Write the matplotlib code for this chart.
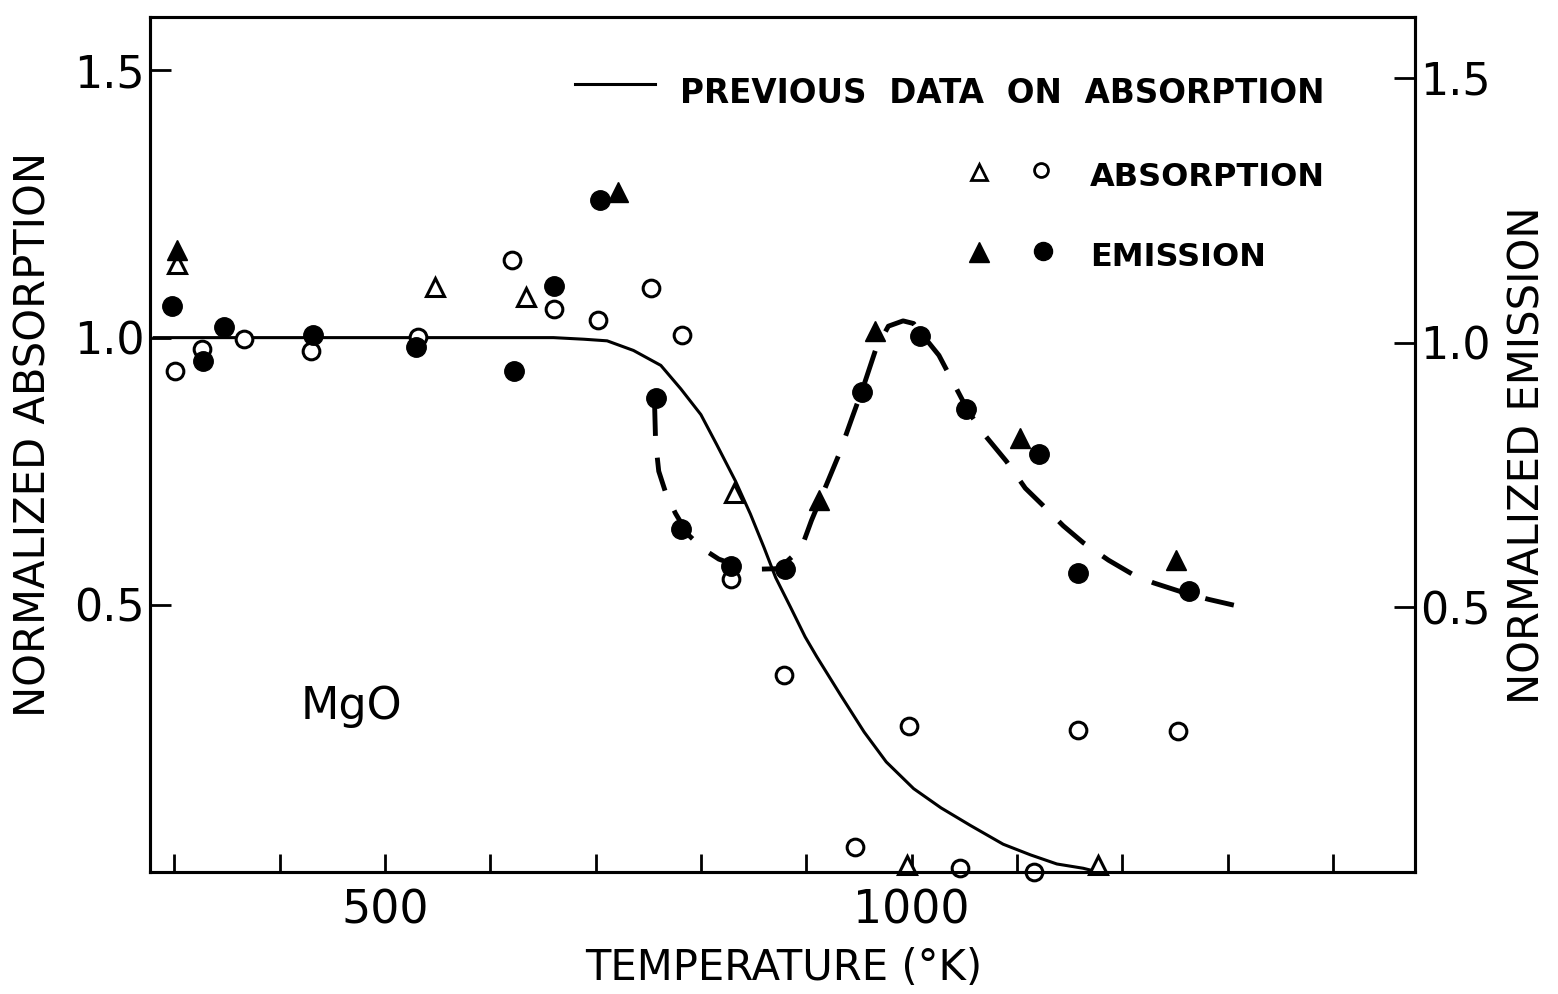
import matplotlib
matplotlib.use("Agg")
import matplotlib.pyplot as plt

plt.rcParams['font.family'] = ['DejaVu Sans']

# Absorcao (simbolos abertos), eixo esquerdo
abs_tri_T = [303, 548, 634, 831, 996, 1177]
abs_tri_val = [1.137, 1.095, 1.076, 0.709, 0.013, 0.014]

abs_circ_T = [301, 326, 366, 430, 531, 621, 661, 702, 753, 782, 829, 879, 946, 998, 1046, 1116, 1158, 1253]
abs_circ_val = [0.937, 0.979, 0.998, 0.975, 1.001, 1.145, 1.054, 1.033, 1.093, 1.004, 0.549, 0.368, 0.047,
                0.274, 0.008, 0.000, 0.266, 0.264]

# Emissao (simbolos cheios), eixo direito
em_tri_T = [303, 721, 912, 965, 1103, 1251]
em_tri_val = [1.174, 1.285, 0.702, 1.022, 0.820, 0.590]

em_circ_T = [298, 327, 347, 432, 530, 623, 661, 704, 757, 781, 829, 880, 953, 1008, 1052, 1121, 1158, 1263]
em_circ_val = [1.069, 0.965, 1.030, 1.014, 0.992, 0.946, 1.106, 1.270, 0.896, 0.647, 0.578, 0.573, 0.906,
               1.013, 0.874, 0.790, 0.565, 0.530]

# Curva de dados anteriores de absorcao (linha cheia)
prev_T = [281, 660, 689, 711, 736, 762, 781, 800, 815, 833, 847, 860, 871, 885, 899, 910, 933, 955, 976,
          1002, 1028, 1056, 1087, 1113, 1138, 1163, 1177]
prev_val = [1.0, 1.0, 0.997, 0.994, 0.976, 0.948, 0.904, 0.856, 0.800, 0.731, 0.670, 0.607, 0.551, 0.496,
            0.440, 0.403, 0.330, 0.262, 0.206, 0.156, 0.120, 0.087, 0.052, 0.032, 0.015, 0.007, 0.0]

# Curva tracejada desenhada pelos pontos de emissao
em_fit_T = [756, 757, 760, 767, 776, 788, 803, 817, 831, 855, 874, 888, 898, 905, 917, 931, 943, 955, 966, 978,
            992, 1002, 1011, 1026, 1040, 1054, 1068, 1090, 1108, 1125, 1144, 1163, 1187, 1211, 1230, 1258, 1282, 1306]
em_fit_val = [0.888, 0.813, 0.757, 0.714, 0.677, 0.637, 0.609, 0.591, 0.581, 0.572, 0.573, 0.598, 0.626, 0.664,
              0.721, 0.788, 0.855, 0.921, 0.987, 1.031, 1.041, 1.036, 1.013, 0.976, 0.923, 0.870, 0.829, 0.776,
              0.725, 0.692, 0.654, 0.622, 0.589, 0.561, 0.546, 0.528, 0.515, 0.504]

x_ticks = list(range(300, 1500, 100))
x_labeled = [500, 1000]
y_ticks = [0.5, 1.0, 1.5]
y_tick_labels = ["0.5", "1.0", "1.5"]

W, H = 1558, 994
fig = plt.figure(figsize=(W / 100, H / 100), dpi=100)
ax = fig.add_axes([150 / W, 1 - 872 / H, 1265 / W, 855 / H])
ax2 = ax.twinx()

# Linha cheia e pontos de absorcao
ax.plot(prev_T, prev_val, color="black", lw=2.2, zorder=2)
ax.plot(abs_circ_T, abs_circ_val, "o", ms=12, mfc="white", mec="black", mew=2.2, clip_on=False, zorder=3)
ax.plot(abs_tri_T, abs_tri_val, "^", ms=13, mfc="white", mec="black", mew=2.2, clip_on=False, zorder=3)

# Emissao no eixo da direita
ax2.plot(em_fit_T, em_fit_val, color="black", lw=3.5, dashes=(7, 4.5), zorder=2)
ax2.plot(em_circ_T, em_circ_val, "o", ms=14, color="black", clip_on=False, zorder=3)
ax2.plot(em_tri_T, em_tri_val, "^", ms=15, color="black", clip_on=False, zorder=3)

ax.set_xlim(277, 1478)
ax.set_ylim(0, 1.6)
ax2.set_ylim(0, 1.615)

ax.set_xticks(x_ticks)
ax.set_xticklabels([str(t) if t in x_labeled else "" for t in x_ticks])
ax.set_yticks(y_ticks)
ax.set_yticklabels(y_tick_labels)
ax2.set_yticks(y_ticks)
ax2.set_yticklabels(y_tick_labels)

ax.tick_params(axis="x", direction="in", length=13, width=2, pad=12, labelsize=33)
ax.tick_params(axis="y", direction="in", length=15, width=2, pad=4, labelsize=32)
ax2.tick_params(axis="y", direction="in", length=15, width=2, pad=4, labelsize=32)

for a in (ax, ax2):
    for s in a.spines.values():
        s.set_linewidth(2.2)

# Titulos dos eixos
fig.text(34 / W, 1 - 435 / H, "NORMALIZED ABSORPTION", rotation=90, ha="center", va="center", fontsize=30)
fig.text(1528 / W, 1 - 455 / H, "NORMALIZED EMISSION", rotation=90, ha="center", va="center", fontsize=30)
fig.text(784 / W, 1 - 968 / H, "TEMPERATURE (°K)", ha="center", va="center", fontsize=30)

# Legenda montada a mao
tr = ax.transAxes
ax.plot([0.336, 0.399], [0.922, 0.922], color="black", lw=2.2, transform=tr)
ax.text(0.419, 0.899, "PREVIOUS  DATA  ON  ABSORPTION", transform=tr, va="baseline", fontsize=23.5,
        fontweight="bold")
ax.plot([0.655], [0.819], "^", ms=11, mfc="white", mec="black", mew=2, transform=tr)
ax.plot([0.704], [0.821], "o", ms=10, mfc="white", mec="black", mew=2, transform=tr)
ax.text(0.743, 0.802, "ABSORPTION", transform=tr, va="baseline", fontsize=23, fontweight="bold")
ax.plot([0.655], [0.725], "^", ms=14, color="black", transform=tr)
ax.plot([0.706], [0.726], "o", ms=13, color="black", transform=tr)
ax.text(0.743, 0.709, "EMISSION", transform=tr, va="baseline", fontsize=23, fontweight="bold")

ax.text(0.119, 0.179, "MgO", transform=tr, va="baseline", fontsize=32)

fig.savefig("out.png", dpi=100)
